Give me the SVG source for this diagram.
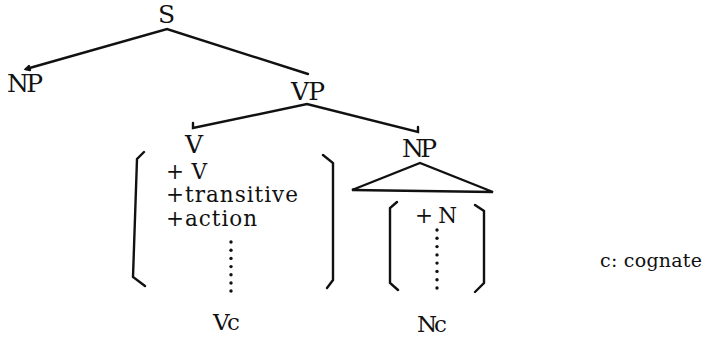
<svg xmlns="http://www.w3.org/2000/svg" width="714" height="338" viewBox="0 0 714 338">
<style>
text{font-family:"DejaVu Serif","Liberation Serif",serif;fill:#111;font-size:25px}
.f{font-size:21.5px}
.c{font-size:23px}
.s{font-size:19px}
.ln{fill:none;stroke:#111;stroke-width:2.4;stroke-linejoin:miter;stroke-linecap:round}
.dot{fill:#111}
</style>
<rect width="714" height="338" fill="#fff"/>
<g id="connectors">
<polyline class="ln" points="26,69 167,29 308,74"/>
<polyline class="ln" points="29,66 26,69 30,70"/>
<polyline class="ln" points="193,123 193,128 307,104 418,132 418,127"/>
<polygon class="ln" points="352,190 420,163 493,192"/>
</g>
<g id="node-S"><text x="158" y="23">S</text></g>
<g id="node-NP1"><text x="7" y="92" textLength="36" lengthAdjust="spacing">NP</text></g>
<g id="node-VP"><text x="291" y="100" textLength="34" lengthAdjust="spacing">VP</text></g>
<g id="node-V">
<text x="185" y="153">V</text>
<polyline class="ln" points="144,152 137,159 133,277 145,286"/>
<polyline class="ln" points="323,155 333,163 333,280 327,288"/>
<text class="f" x="166" y="179" textLength="41" lengthAdjust="spacing">+V</text>
<text class="f" x="166" y="202" textLength="132" lengthAdjust="spacing">+transitive</text>
<text class="f" x="166" y="226" textLength="91" lengthAdjust="spacing">+action</text>
<g class="dot">
<circle cx="231" cy="242" r="1.7"/><circle cx="231" cy="250.2" r="1.7"/><circle cx="231" cy="258.4" r="1.7"/><circle cx="231" cy="266.6" r="1.7"/><circle cx="231" cy="274.8" r="1.7"/><circle cx="231" cy="283" r="1.7"/><circle cx="231" cy="291" r="1.7"/>
</g>
<text class="c" x="213" y="330" textLength="27" lengthAdjust="spacing">Vc</text>
</g>
<g id="node-NP2">
<text x="402" y="157" textLength="35" lengthAdjust="spacing">NP</text>
<polyline class="ln" points="397,202 390,208 390,283 398,290"/>
<polyline class="ln" points="475,205 484,211 484,283 475,292"/>
<text class="f" x="415" y="223" textLength="42" lengthAdjust="spacing">+N</text>
<g class="dot">
<circle cx="437" cy="230" r="1.7"/><circle cx="437" cy="238.3" r="1.7"/><circle cx="437" cy="246.6" r="1.7"/><circle cx="437" cy="254.9" r="1.7"/><circle cx="437" cy="263.1" r="1.7"/><circle cx="437" cy="271.4" r="1.7"/><circle cx="437" cy="279.7" r="1.7"/><circle cx="437" cy="288" r="1.7"/>
</g>
<text class="c" x="417" y="332" textLength="30" lengthAdjust="spacing">Nc</text>
</g>
<g id="legend"><text class="s" x="600" y="267" textLength="102" lengthAdjust="spacing">c: cognate</text></g>
</svg>
